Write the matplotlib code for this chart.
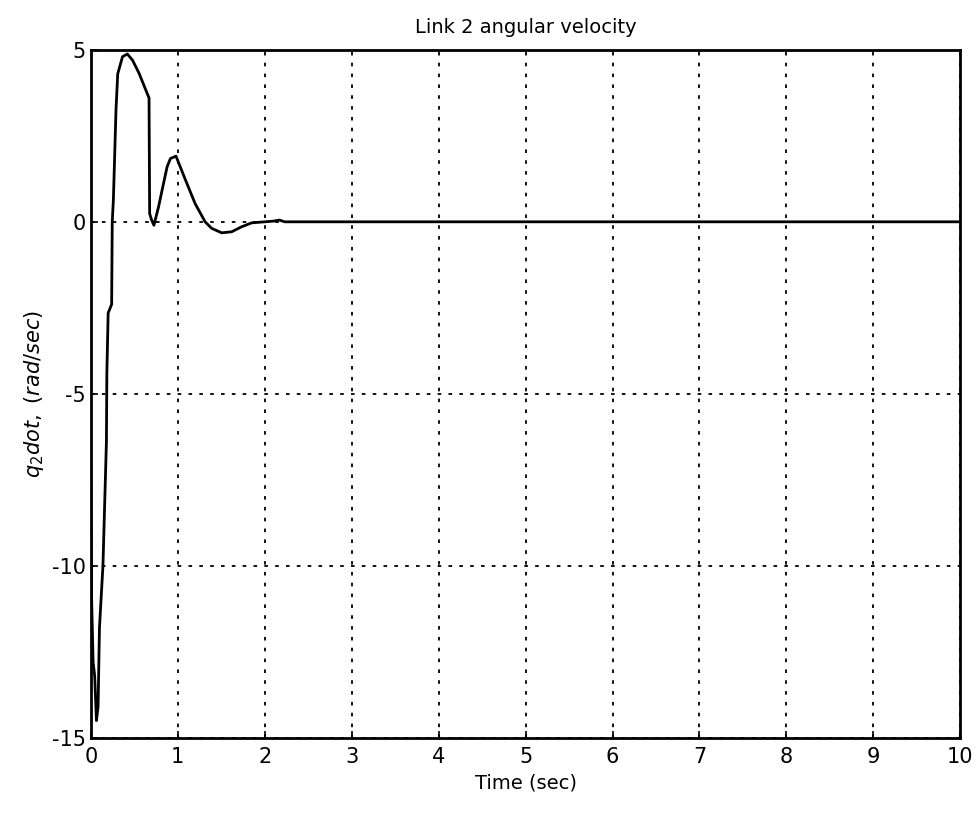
import numpy as np
import matplotlib
matplotlib.use('Agg')
import matplotlib.pyplot as plt

# values (time in sec, angular velocity in rad/sec)
t = [0.0, 0.01, 0.027, 0.045, 0.065, 0.084, 0.10, 0.14, 0.18, 0.185, 0.20, 0.24,
     0.247, 0.26, 0.27, 0.29, 0.31, 0.365, 0.42, 0.48, 0.555, 0.67, 0.677,
     0.70, 0.726, 0.78, 0.82, 0.878, 0.916, 0.98, 1.09, 1.20, 1.315, 1.39,
     1.506, 1.62, 1.73, 1.85, 2.0, 2.10, 2.17, 2.23, 2.5, 3.0, 4.0, 5.0,
     6.0, 7.0, 8.0, 9.0, 10.0]
q2dot = [-7.0, -11.0, -12.8, -13.2, -14.5, -14.1, -11.8, -10.0, -6.4, -4.4,
         -2.65, -2.4, 0.0, 0.64, 1.5, 3.25, 4.3, 4.8, 4.88, 4.7, 4.32, 3.6,
         0.24, 0.05, -0.1, 0.44, 0.92, 1.6, 1.84, 1.91, 1.21, 0.53, 0.0, -0.19,
         -0.32, -0.29, -0.15, -0.03, 0.0, 0.02, 0.05, 0.0, 0.0, 0.0, 0.0, 0.0,
         0.0, 0.0, 0.0, 0.0, 0.0]

xticks = [0, 1, 2, 3, 4, 5, 6, 7, 8, 9, 10]
yticks = [-15, -10, -5, 0, 5]

plt.rcParams['mathtext.fontset'] = 'dejavusans'
plt.rcParams['axes.unicode_minus'] = False

fig = plt.figure(figsize=(9.76, 8.17), dpi=100)
ax = fig.add_axes([0.093, 0.097, 0.891, 0.842])

ax.plot(t, q2dot, 'k-', lw=2.0)

ax.set_xlim(0, 10)
ax.set_ylim(-15, 5)
ax.set_xticks(xticks)
ax.set_yticks(yticks)
ax.tick_params(direction='in', labelsize=15, length=5, width=1.2)
ax.tick_params(axis='x', pad=7)
ax.grid(True, color='k', linestyle=(0, (2, 4)), linewidth=1.3)
for s in ax.spines.values():
    s.set_linewidth(2)

ax.set_title('Link 2 angular velocity', fontsize=14, pad=12)
ax.set_xlabel('Time (sec)', fontsize=14, labelpad=4)
ax.set_ylabel(r'$\mathit{q_2dot},\ \mathit{(rad/sec)}$', fontsize=15)

fig.savefig('out.png', dpi=100)
